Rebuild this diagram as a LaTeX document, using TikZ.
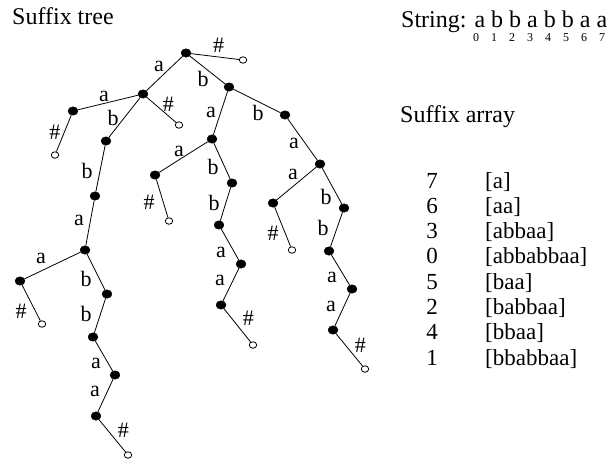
\documentclass[tikz,border=0pt]{standalone}
\usepackage{fontspec}
\setmainfont{Liberation Serif}
\usetikzlibrary{shapes.geometric}
\begin{document}
\begin{tikzpicture}[x=1pt,y=-1pt,
  inner/.style={ellipse, fill=black, draw=black, minimum width=10pt, minimum height=8.5pt, inner sep=0pt},
  leaf/.style={ellipse, fill=white, draw=black, line width=0.8pt, minimum width=7.5pt, minimum height=6.5pt, inner sep=0pt},
  edge/.style={line width=0.8pt},
  lbl/.style={font=\fontsize{22}{26}\selectfont, inner sep=0pt},
  title/.style={font=\fontsize{24}{28}\selectfont, inner sep=0pt, anchor=base west},
  idx/.style={font=\fontsize{12}{14}\selectfont, inner sep=0pt, anchor=base},
  entry/.style={font=\fontsize{23}{27}\selectfont, inner sep=0pt, anchor=base west},
  num/.style={font=\fontsize{23}{27}\selectfont, inner sep=0pt, anchor=base},
]
\useasboundingbox (0,0) rectangle (615,459);

% ---- headings ----
\node[title] (treetitle) at (12,24) {Suffix tree};
\node[title] (strtitle) at (401,27) {String: a b b a b b a a};
\foreach \i in {0,...,7}
  \node[idx] (d\i) at (476+18*\i,41) {\i};
\node[title] (arrtitle) at (400,122) {Suffix array};

% ---- suffix array ----
\foreach \n/\s [count=\k from 0] in {7/[a],6/[aa],3/[abbaa],0/[abbabbaa],5/[baa],2/[babbaa],4/[bbaa],1/[bbabbaa]}{
  \node[num] (n\k) at (432,188+25.3*\k) {\n};
  \node[entry] (e\k) at (485,188+25.3*\k) {\s};
}

% ---- tree nodes ----
\node[inner] (r) at (186,53) {};
\node[leaf] (rh) at (243,60) {};
\node[inner] (A) at (143,94) {};
\node[inner] (B) at (229,87) {};
\node[inner] (AA) at (73,111) {};
\node[leaf] (AH) at (179,125) {};
\node[inner] (AB) at (106,141) {};
\node[leaf] (AAH) at (55,155) {};
\node[inner] (ABB) at (95,196) {};
\node[inner] (ABBA) at (85,250) {};
\node[inner] (ABBAA) at (20,281) {};
\node[leaf] (ABBAAH) at (42,324) {};
\node[inner] (ABBAB) at (107,294) {};
\node[inner] (p1) at (93,337) {};
\node[inner] (p2) at (115,375) {};
\node[inner] (p3) at (96,416) {};
\node[leaf] (pH) at (128,455) {};
\node[inner] (BA) at (212,139) {};
\node[inner] (BB) at (285,115) {};
\node[inner] (BAA) at (155,175) {};
\node[leaf] (BAAH) at (169,221) {};
\node[inner] (BAB) at (232,183) {};
\node[inner] (BABB) at (219,225) {};
\node[inner] (m1) at (241,264) {};
\node[inner] (m2) at (221,305) {};
\node[leaf] (mH) at (253,345) {};
\node[inner] (BBA) at (320,164) {};
\node[inner] (BBAA) at (273,203) {};
\node[leaf] (BBAAH) at (292,250) {};
\node[inner] (BBAB) at (344,208) {};
\node[inner] (k1) at (329,251) {};
\node[inner] (k2) at (352,289) {};
\node[inner] (k3) at (333,330) {};
\node[leaf] (kH) at (365,369) {};

% ---- tree edges with labels ----
\draw[edge] (r) -- node[lbl,shift={(3.5,-11.5)}]{\#} (rh);
\draw[edge] (r) -- node[lbl,shift={(-5.5,-7.5)}]{a} (A);
\draw[edge] (r) -- node[lbl,shift={(-4.5,9)}]{b} (B);
\draw[edge] (A) -- node[lbl,shift={(-4,-6.5)}]{a} (AA);
\draw[edge] (A) -- node[lbl,shift={(7,-6)}]{\#} (AH);
\draw[edge] (A) -- node[lbl,shift={(-11.5,0.5)}]{b} (AB);
\draw[edge] (AA) -- node[lbl,shift={(-9,-1)}]{\#} (AAH);
\draw[edge] (AB) -- node[lbl,shift={(-13.5,2.5)}]{b} (ABB);
\draw[edge] (ABB) -- node[lbl,shift={(-11,-3)}]{a} (ABBA);
\draw[edge] (ABBA) -- node[lbl,shift={(-11.5,-7.5)}]{a} (ABBAA);
\draw[edge] (ABBAA) -- node[lbl,shift={(-10,8.5)}]{\#} (ABBAAH);
\draw[edge] (ABBA) -- node[lbl,shift={(-10,7)}]{b} (ABBAB);
\draw[edge] (ABBAB) -- node[lbl,shift={(-14,-1.5)}]{b} (p1);
\draw[edge] (p1) -- node[lbl,shift={(-8,7)}]{a} (p2);
\draw[edge] (p2) -- node[lbl,shift={(-10.5,-4.5)}]{a} (p3);
\draw[edge] (p3) -- node[lbl,shift={(11,-5.5)}]{\#} (pH);
\draw[edge] (B) -- node[lbl,shift={(-9.5,-1)}]{a} (BA);
\draw[edge] (B) -- node[lbl,shift={(1,12)}]{b} (BB);
\draw[edge] (BA) -- node[lbl,shift={(-4.5,-6)}]{a} (BAA);
\draw[edge] (BAA) -- node[lbl,shift={(-13,4)}]{\#} (BAAH);
\draw[edge] (BA) -- node[lbl,shift={(-9,6)}]{b} (BAB);
\draw[edge] (BAB) -- node[lbl,shift={(-11.5,-1)}]{b} (BABB);
\draw[edge] (BABB) -- node[lbl,shift={(-9,7.5)}]{a} (m1);
\draw[edge] (m1) -- node[lbl,shift={(-11,-4.5)}]{a} (m2);
\draw[edge] (m2) -- node[lbl,shift={(11,-7)}]{\#} (mH);
\draw[edge] (BB) -- node[lbl,shift={(-8.5,3.5)}]{a} (BBA);
\draw[edge] (BBA) -- node[lbl,shift={(-3.5,-9.5)}]{a} (BBAA);
\draw[edge] (BBAA) -- node[lbl,shift={(-9.5,6.5)}]{\#} (BBAAH);
\draw[edge] (BBA) -- node[lbl,shift={(-6,11)}]{b} (BBAB);
\draw[edge] (BBAB) -- node[lbl,shift={(-13.5,-1.5)}]{b} (k1);
\draw[edge] (k1) -- node[lbl,shift={(-8.5,7)}]{a} (k2);
\draw[edge] (k2) -- node[lbl,shift={(-11.5,-3.5)}]{a} (k3);
\draw[edge] (k3) -- node[lbl,shift={(11,-4.5)}]{\#} (kH);
\end{tikzpicture}
\end{document}
